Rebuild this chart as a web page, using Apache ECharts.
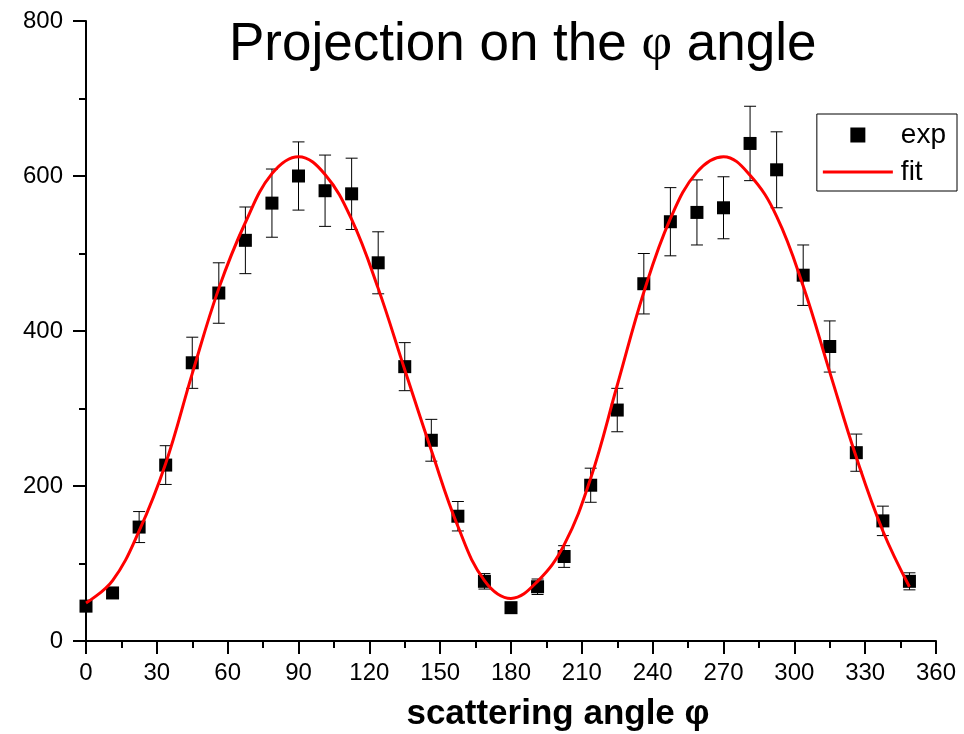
<!DOCTYPE html>
<html>
<head>
<meta charset="utf-8">
<script src="https://cdn.jsdelivr.net/npm/echarts@6/dist/echarts.min.js"></script>
<style>
  html, body { margin: 0; padding: 0; background: #fff; }
  #chart { width: 964px; height: 734px; }
</style>
</head>
<body>
<div id="chart"></div>
<script>
// Measured counts per azimuthal bin (degrees)
const angles = [0, 11.25, 22.5, 33.75, 45, 56.25, 67.5, 78.75, 90, 101.25, 112.5, 123.75,
  135, 146.25, 157.5, 168.75, 180, 191.25, 202.5, 213.75, 225, 236.25, 247.5, 258.75,
  270, 281.25, 292.5, 303.75, 315, 326.25, 337.5, 348.75];
const counts = [45, 62, 147, 227, 359, 449, 517, 565, 600, 581, 577, 488,
  354, 259, 161, 77, 43, 70, 109, 201, 298, 461, 541, 553,
  559, 642, 608, 472, 380, 243, 155, 77];
const errors = [7, 7, 20, 25, 33, 39, 43, 44, 44, 46, 46, 40,
  31, 27, 19, 10, 6, 10, 14, 22, 28, 39, 44, 42,
  40, 48, 49, 39, 33, 24, 19, 11];

// Fitted curve sampled at the same angles
const fitAngles = angles;
const fitCounts = [49, 78, 142, 229, 345, 455, 540, 603, 625, 602, 544, 455,
  350, 246, 148, 78, 55, 77, 124, 210, 330, 450, 545, 605,
  625, 601, 548, 458, 347, 237, 142, 70];

const FONT = "'Liberation Sans', Arial, sans-serif";

const chart = echarts.init(document.getElementById('chart'));

const expData = angles.map((a, i) => [a, counts[i]]);
const errData = angles.map((a, i) => [a, counts[i] - errors[i], counts[i] + errors[i]]);
const fitData = fitAngles.map((a, i) => [a, fitCounts[i]]);

function renderErrorBar(params, api) {
  const x = api.value(0);
  const lo = api.coord([x, api.value(1)]);
  const hi = api.coord([x, api.value(2)]);
  const cap = 6;
  const style = { stroke: '#000', lineWidth: 1 };
  return {
    type: 'group',
    children: [
      { type: 'line', shape: { x1: lo[0], y1: lo[1], x2: hi[0], y2: hi[1] }, style },
      { type: 'line', shape: { x1: hi[0] - cap, y1: hi[1], x2: hi[0] + cap, y2: hi[1] }, style },
      { type: 'line', shape: { x1: lo[0] - cap, y1: lo[1], x2: lo[0] + cap, y2: lo[1] }, style }
    ]
  };
}

const axisCommon = {
  axisLine: { show: true, onZero: false, lineStyle: { color: '#000', width: 2 } },
  axisTick: { show: true, inside: false, length: 13, lineStyle: { color: '#000', width: 2 } },
  minorTick: { show: true, splitNumber: 2, length: 7, lineStyle: { color: '#000', width: 2 } },
  splitLine: { show: false },
  minorSplitLine: { show: false },
  axisLabel: { color: '#000', fontSize: 24, fontFamily: FONT }
};

chart.setOption({
  animation: false,
  backgroundColor: '#fff',
  title: {
    text: '{a|Projection on the }{p|φ}{a| angle}',
    left: 224,
    top: 14,
    textStyle: {
      fontWeight: 'normal',
      rich: {
        a: { fontSize: 53, fontWeight: 'normal', fontFamily: FONT, color: '#000' },
        p: { fontSize: 53, fontWeight: 'normal', fontFamily: "'Liberation Serif', 'Times New Roman', serif", color: '#000' }
      }
    }
  },
  legend: {
    data: [
      { name: 'exp', icon: 'path://M0,0H10V10H0Z' },
      { name: 'fit', icon: 'path://M0,0H70V3H0Z' }
    ],
    orient: 'vertical',
    right: 7,
    top: 114,
    itemWidth: 70,
    itemHeight: 15,
    itemGap: 7,
    symbolKeepAspect: true,
    padding: [6, 11, 4, 6],
    borderColor: '#000',
    borderWidth: 1,
    backgroundColor: '#fff',
    textStyle: { fontSize: 28, lineHeight: 30, fontFamily: FONT, color: '#000', padding: [0, 0, 0, 3] }
  },
  grid: { left: 86, right: 28, top: 21, bottom: 93, containLabel: false, outerBoundsMode: 'none' },
  xAxis: Object.assign({}, axisCommon, {
    type: 'value',
    min: 0,
    max: 360,
    interval: 30,
    axisLabel: Object.assign({}, axisCommon.axisLabel, { margin: 20 }),
    name: 'scattering angle φ',
    nameLocation: 'middle',
    nameGap: 56,
    nameTextStyle: {
      fontSize: 35,
      fontWeight: 'bold',
      fontFamily: FONT,
      color: '#000',
      padding: [0, 0, 0, 94]
    }
  }),
  yAxis: Object.assign({}, axisCommon, {
    type: 'value',
    min: 0,
    max: 800,
    interval: 200,
    axisLabel: Object.assign({}, axisCommon.axisLabel, { margin: 23 })
  }),
  series: [
    {
      name: 'error',
      type: 'custom',
      renderItem: renderErrorBar,
      data: errData,
      encode: { x: 0, y: [1, 2] },
      z: 1,
      clip: false,
      silent: true
    },
    {
      name: 'exp',
      type: 'scatter',
      symbol: 'rect',
      symbolSize: 13,
      itemStyle: { color: '#000', opacity: 1 },
      data: expData,
      z: 2,
      clip: false
    },
    {
      name: 'fit',
      type: 'line',
      smooth: 0.4,
      showSymbol: false,
      symbol: 'none',
      lineStyle: { color: '#ff0000', width: 3 },
      itemStyle: { color: '#ff0000' },
      data: fitData,
      z: 3,
      clip: false
    }
  ]
});
</script>
</body>
</html>
